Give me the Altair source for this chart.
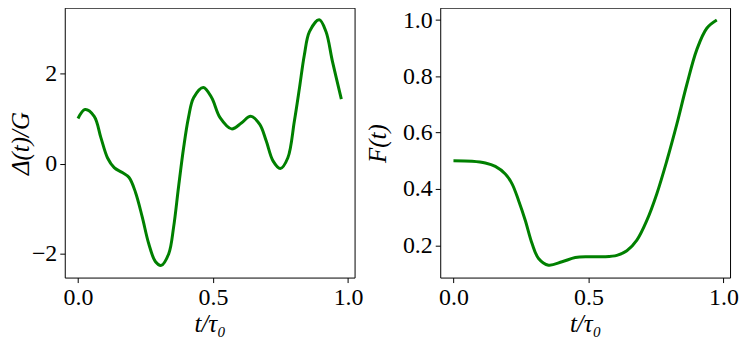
import altair as alt
import pandas as pd

# Left panel: Delta(t)/G
t_delta = [0.0, 0.026, 0.06, 0.085, 0.109, 0.134, 0.164, 0.189, 0.213, 0.238, 0.262,
           0.287, 0.308, 0.336, 0.354, 0.372, 0.391, 0.409, 0.428, 0.464, 0.495, 0.526,
           0.569, 0.605, 0.639, 0.673, 0.697, 0.722, 0.749, 0.777, 0.801, 0.820, 0.838,
           0.857, 0.893, 0.918, 0.942, 0.975]
delta = [1.0, 1.2, 1.05, 0.57, 0.13, -0.09, -0.20, -0.31, -0.64, -1.19, -1.78,
         -2.18, -2.26, -2.0, -1.41, -0.53, 0.35, 1.02, 1.46, 1.69, 1.46, 1.02,
         0.77, 0.90, 1.05, 0.87, 0.50, 0.06, -0.11, 0.13, 0.94, 1.68, 2.41,
         2.93, 3.19, 2.93, 2.27, 1.43]

# Right panel: F(t)
t_fid = [0.0, 0.069, 0.118, 0.155, 0.192, 0.217, 0.241, 0.266, 0.291, 0.315, 0.352,
         0.402, 0.451, 0.5, 0.556, 0.605, 0.642, 0.679, 0.716, 0.753, 0.790, 0.827,
         0.864, 0.901, 0.938, 0.975]
fid = [0.5, 0.498, 0.492, 0.48, 0.453, 0.418, 0.359, 0.288, 0.206, 0.153, 0.129,
       0.141, 0.156, 0.159, 0.159, 0.164, 0.18, 0.218, 0.288, 0.383, 0.5, 0.63,
       0.771, 0.895, 0.971, 1.0]

x_ticks = [0.0, 0.5, 1.0]
y_ticks_left = [-2, 0, 2]
y_ticks_right = [0.2, 0.4, 0.6, 0.8, 1.0]

df_l = pd.DataFrame({"t": t_delta, "v": delta})
df_r = pd.DataFrame({"t": t_fid, "v": fid})

FONT = "Liberation Serif"
GREEN = "#008000"
W, H = 291, 271

xaxis = alt.Axis(values=x_ticks, format=".1f", title="t/τ₀", titleFontStyle="italic",
                 titleFontWeight="normal", titlePadding=2)

left = alt.Chart(df_l).mark_line(color=GREEN, strokeWidth=3, interpolate="catmull-rom").encode(
    x=alt.X("t:Q", scale=alt.Scale(domain=[-0.049, 1.024], nice=False, zero=False), axis=xaxis),
    y=alt.Y("v:Q", scale=alt.Scale(domain=[-2.53, 3.46], nice=False, zero=False),
            axis=alt.Axis(values=y_ticks_left, format="d", title="Δ(t)/G",
                          titleFontStyle="italic", titleFontWeight="normal",
                          titleX=-31, titleY=136, titleAngle=270, titleBaseline="bottom")),
).properties(width=W, height=H)

right = alt.Chart(df_r).mark_line(color=GREEN, strokeWidth=3, interpolate="catmull-rom").encode(
    x=alt.X("t:Q", scale=alt.Scale(domain=[-0.049, 1.024], nice=False, zero=False), axis=xaxis),
    y=alt.Y("v:Q", scale=alt.Scale(domain=[0.085, 1.044], nice=False, zero=False),
            axis=alt.Axis(values=y_ticks_right, format=".1f", title="F(t)",
                          titleFontStyle="italic", titleFontWeight="normal",
                          titleX=-50, titleY=136, titleAngle=270, titleBaseline="bottom")),
).properties(width=W, height=H)

chart = alt.hconcat(left, right, spacing=86, bounds="flush").properties(
    padding={"left": 0, "top": -2, "right": 0, "bottom": 0}
).configure_view(
    stroke="black", strokeWidth=1
).configure_axis(
    domain=False, grid=False, ticks=True, tickColor="black", tickSize=5, tickWidth=1,
    labelFont=FONT, labelFontSize=24, labelColor="black", labelPadding=3,
    titleFont=FONT, titleFontSize=25, titleColor="black",
)

chart.save("out.html", embed_options={"renderer": "svg", "actions": False})
